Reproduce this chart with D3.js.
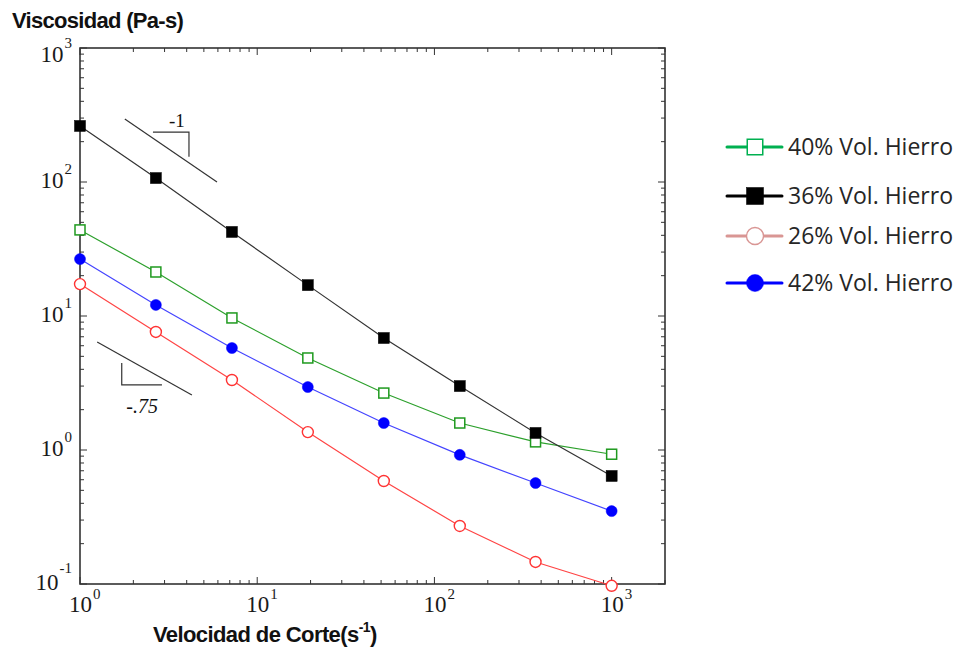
<!DOCTYPE html>
<html>
<head>
<meta charset="utf-8">
<script src="https://cdn.jsdelivr.net/npm/d3@7"></script>
<style>
  html, body { margin: 0; padding: 0; background: #fff; }
  svg { display: block; }
  .serif { font-family: "Liberation Serif", "DejaVu Serif", "Times New Roman", serif; }
  .sans { font-family: "Liberation Sans", Arial, sans-serif; }
  .legend { font-family: "Open Sans", sans-serif; }
</style>
</head>
<body>
<svg id="chart" width="963" height="649"></svg>
<script>
// ---------- data ----------
const shearRates = [1, 2.68, 7.2, 19.3, 51.8, 139, 372, 1000];
const visc40 = [43.9, 21.3, 9.67, 4.86, 2.66, 1.59, 1.15, 0.93];
const visc36 = [262, 107, 42.4, 17.0, 6.85, 3.0, 1.34, 0.64];
const visc26 = [17.3, 7.6, 3.33, 1.36, 0.587, 0.271, 0.146, 0.097];
const visc42 = [26.6, 12.1, 5.77, 2.95, 1.59, 0.92, 0.567, 0.35];

const seriesNames = ["40% Vol. Hierro", "36% Vol. Hierro", "26% Vol. Hierro", "42% Vol. Hierro"];
const xTickExps = [0, 1, 2, 3];
const yTickExps = [-1, 0, 1, 2, 3];

// slope guide annotations (data units)
const slope1Line = [[1.79, 295], [5.93, 100]];
const slope1Tri = [[2.58, 236], [4.12, 236], [4.12, 154]];
const slope1Label = { x: 3.52, y: 257, text: "-1" };
const slope75Line = [[1.25, 6.4], [4.28, 2.57]];
const slope75Tri = [[1.72, 4.46], [1.72, 3.06], [2.9, 3.06]];
const slope75Label = { x: 2.24, y: 1.89, text: "-.75" };

// ---------- styles ----------
const styles = [
  { line: "#2ca02c", marker: "square", fill: "#fff", stroke: "#1f9a1f", size: 10, legendLine: "#00b050" },
  { line: "#333333", marker: "square", fill: "#000", stroke: "#000", size: 11, legendLine: "#000" },
  { line: "#ff4444", marker: "circle", fill: "#fff", stroke: "#ff3333", size: 11, legendLine: "#d99694" },
  { line: "#4444ff", marker: "circle", fill: "#0000ff", stroke: "#0000ff", size: 11, legendLine: "#0000ff" }
];
const allSeries = [visc40, visc36, visc26, visc42];

const svg = d3.select("#chart");
const L = 80, R = 665, T = 48, B = 584;

const x = d3.scaleLog().domain([1, 2000]).range([L, R]);
const y = d3.scaleLog().domain([0.1, 1000]).range([B, T]);

// ---------- ticks ----------
const minorX = [];
for (let e = 0; e <= 3; e++) for (let m = 1; m <= 9; m++) { const v = m * Math.pow(10, e); if (v <= 2000) minorX.push(v); }
const minorY = [];
for (let e = -1; e <= 2; e++) for (let m = 1; m <= 9; m++) minorY.push(m * Math.pow(10, e));
minorY.push(1000);

const tickG = svg.append("g").attr("stroke", "#333").attr("stroke-width", 1);
minorX.forEach(v => {
  const major = Math.abs(Math.log10(v) - Math.round(Math.log10(v))) < 1e-9;
  const len = major ? 7 : 4;
  tickG.append("line").attr("x1", x(v)).attr("x2", x(v)).attr("y1", B).attr("y2", B - len);
  tickG.append("line").attr("x1", x(v)).attr("x2", x(v)).attr("y1", T).attr("y2", T + len);
});
minorY.forEach(v => {
  const major = Math.abs(Math.log10(v) - Math.round(Math.log10(v))) < 1e-9;
  const len = major ? 7 : 4;
  tickG.append("line").attr("y1", y(v)).attr("y2", y(v)).attr("x1", L).attr("x2", L + len);
  tickG.append("line").attr("y1", y(v)).attr("y2", y(v)).attr("x1", R).attr("x2", R - len);
});

// frame
svg.append("rect").attr("x", L).attr("y", T).attr("width", R - L).attr("height", B - T)
  .attr("fill", "none").attr("stroke", "#333").attr("stroke-width", 1.6);

// tick labels
xTickExps.forEach(e => {
  const t = svg.append("text").attr("class", "serif").attr("fill", "#1a1a1a")
    .attr("x", x(Math.pow(10, e)) - 11).attr("y", B + 28).attr("font-size", 23);
  t.append("tspan").text("10");
  t.append("tspan").attr("font-size", 15).attr("dy", -13).attr("dx", 1).text(String(e));
});
yTickExps.forEach(e => {
  const yy = y(Math.pow(10, e)) + (e === 3 ? 14 : 6);
  const t = svg.append("text").attr("class", "serif").attr("fill", "#1a1a1a")
    .attr("x", 72).attr("y", yy).attr("font-size", 23).attr("text-anchor", "end");
  t.append("tspan").text("10");
  t.append("tspan").attr("font-size", 15).attr("dy", e === -1 ? -17 : -14).attr("dx", 1).text(String(e));
});

// axis titles
svg.append("text").attr("class", "sans").attr("x", 12).attr("y", 28).attr("font-weight", "bold")
  .attr("font-size", 22).attr("letter-spacing", -0.7).attr("fill", "#111").text("Viscosidad (Pa-s)");
const xt = svg.append("text").attr("class", "sans").attr("x", 153).attr("y", 642).attr("font-weight", "bold")
  .attr("font-size", 22).attr("letter-spacing", -0.6).attr("fill", "#111");
xt.append("tspan").text("Velocidad de Corte(s");
xt.append("tspan").attr("font-size", 14).attr("dy", -10).text("-1");
xt.append("tspan").attr("dy", 10).text(")");

// ---------- slope annotations ----------
const lineGen = d3.line().x(d => x(d[0])).y(d => y(d[1]));
const annG = svg.append("g").attr("fill", "none").attr("stroke", "#333").attr("stroke-width", 1.2);
annG.append("path").attr("d", lineGen(slope1Line));
annG.append("path").attr("d", lineGen(slope1Tri));
annG.append("path").attr("d", lineGen(slope75Line));
annG.append("path").attr("d", lineGen(slope75Tri));
svg.append("text").attr("class", "serif").attr("x", x(slope1Label.x)).attr("y", y(slope1Label.y)).attr("text-anchor", "middle")
  .attr("font-size", 19).attr("fill", "#111").text(slope1Label.text);
svg.append("text").attr("class", "serif").attr("x", x(slope75Label.x)).attr("y", y(slope75Label.y)).attr("text-anchor", "middle")
  .attr("font-style", "italic").attr("font-size", 20).attr("fill", "#111").text(slope75Label.text);

// ---------- series ----------
function drawMarker(g, st, cx, cy, scale) {
  const s = st.size * scale;
  if (st.marker === "square") {
    g.append("rect").attr("x", cx - s / 2).attr("y", cy - s / 2).attr("width", s).attr("height", s)
      .attr("fill", st.fill).attr("stroke", st.stroke).attr("stroke-width", st.fill === "#fff" ? 1.5 : 0.5);
  } else {
    g.append("circle").attr("cx", cx).attr("cy", cy).attr("r", s / 2)
      .attr("fill", st.fill).attr("stroke", st.stroke).attr("stroke-width", st.fill === "#fff" ? 1.4 : 0.5);
  }
}

const plotLine = d3.line().x(d => x(d[0])).y(d => y(d[1]));
allSeries.forEach((vals, i) => {
  const st = styles[i];
  const pts = shearRates.map((r, k) => [r, vals[k]]);
  const g = svg.append("g");
  g.append("path").attr("d", plotLine(pts)).attr("fill", "none").attr("stroke", st.line).attr("stroke-width", 1.2);
  pts.forEach(p => drawMarker(g, st, x(p[0]), y(p[1]), 1));
});

// ---------- legend ----------
const legendRows = [147, 196, 236, 283];
seriesNames.forEach((name, i) => {
  const st = styles[i];
  const g = svg.append("g");
  const cy = legendRows[i];
  g.append("line").attr("x1", 727).attr("x2", 782).attr("y1", cy).attr("y2", cy)
    .attr("stroke", st.legendLine).attr("stroke-width", 3).attr("stroke-linecap", "round");
  const lst = Object.assign({}, st, { stroke: st.fill === "#fff" ? st.legendLine : st.stroke });
  drawMarker(g, lst, 755, cy, 1.55);
  g.append("text").attr("class", "legend").attr("x", 788).attr("y", cy + 8)
    .attr("font-size", 23).attr("fill", "#262626").text(name);
});
</script>
</body>
</html>
